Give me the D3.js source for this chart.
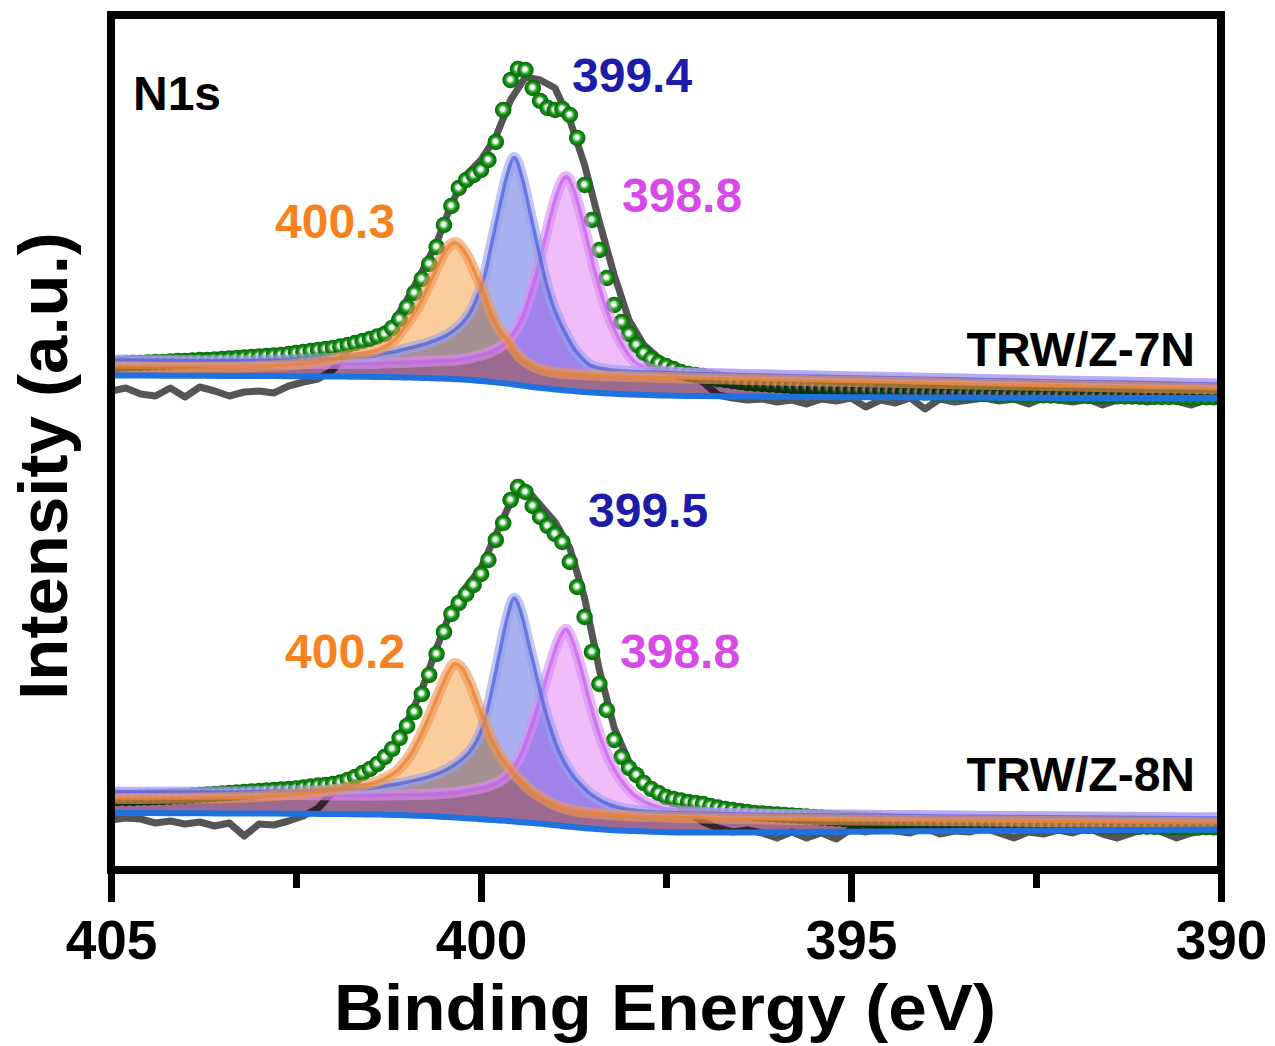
<!DOCTYPE html>
<html><head><meta charset="utf-8">
<script src="https://cdn.jsdelivr.net/npm/d3@7/dist/d3.min.js"></script>
<style>
html,body{margin:0;padding:0;background:#fff;}
svg{display:block;font-family:"Liberation Sans",Arial,Helvetica,sans-serif;font-weight:bold;}
</style>
</head><body>
<svg id="chart" width="1275" height="1046"></svg>
<script>
// ---------------- DATA ----------------
// Binding-energy sampling of the measured spectra (eV)
const rawStart = 405, rawStep = 0.2;   // raw data, 76 samples
const envStart = 405, envStep = 0.1;   // fitted envelope, 151 samples

// energy grid of the fitted components / backgrounds (eV)
const compEnergy = [405,404.5,404,403.5,403,402.6,402.3,402.05,401.85,401.65,
 401.45,401.35,401.25,401.15,401.05,400.95,400.85,400.75,400.65,400.55,
 400.45,400.35,400.25,400.15,400.05,399.95,399.85,399.75,399.65,399.55,
 399.45,399.35,399.25,399.15,399.05,398.95,398.85,398.75,398.65,398.55,
 398.45,398.35,398.25,398.15,398.05,397.95,397.75,397.55,397.35,397.1,
 396.8,396.4,396,395,394,393,392,391,390];

// ---- TRW/Z-7N (upper spectrum), intensity in a.u. ----
const raw7N = [9,12,6,4,12,3,13,9,4,8,9,7,14,18,21,
 30,50,58,66,76,100,128,157,196,225,240,263,300,323,320,312,280,235,178,125,80,55,42,32,24,18,
 5,2,0,1,-2,0,-4,1,-1,2,-7,0,-3,2,-9,1,-2,0,2,-1,1,-4,2,0,-2,1,-5,0,2,-2,1,-1,-5,0,-1];
const env7N = [36,36,36.5,37,37,37.5,38,38,38.5,39,
 39,39.5,40,40,40.5,41,41.5,42,42.5,43,
 43.5,44,44.5,45,46,47,48,49,50,51,
 52,53.5,55,57,59,61,63.5,66,72,81,
 93,107,121,136,153,175,194,212,220,225,
 230,240,258,290,320,331,330,312,299,292,
 290,291,285,262,215,180,150,122,95,78,
 66,55,47,41,37,34,31,28,26,25,
 24,22.5,21,20,19,18,17,16.5,16,15.5,
 15,
 14.5,14,13.5,13,12.5,12,11.5,11,10.7,10.4,
 10.1,9.8,9.5,9.2,8.9,8.6,8.3,8,7.8,7.6,
 7.4,7.2,7,6.8,6.6,6.4,6.2,6,5.8,5.6,
 5.4,5.2,5,4.9,4.8,4.7,4.6,4.5,4.4,4.3,
 4.2,4.1,4,3.9,3.8,3.7,3.6,3.5,3.4,3.3,
 3.2,3.1,3,3,2.9,2.9,2.8,2.8,2.7,2.7];
const bg7N = [24.5,24.4,24.3,24.1,24,23.8,23.7,23.5,23.4,23.2,
 23.1,23,22.9,22.7,22.6,22.4,22.2,22,21.8,21.5,
 21.2,20.8,20.4,19.9,19.3,18.7,18,17.2,16.4,15.5,
 14.5,13.5,12.6,11.8,11,10.2,9.5,8.9,8.3,7.8,
 7.3,6.8,6.4,6,5.7,5.4,5,4.6,4.3,4,
 3.7,3.4,3.2,2.8,2.5,2.3,2.1,2,1.9];
const base7N = [32,31.3,30.6,29.9,29.2,28.6,28.2,27.9,27.6,27.3,
 27,26.9,26.8,26.6,26.5,26.3,26.2,26.1,25.9,25.8,
 25.6,25.5,25.4,25.2,25.1,24.9,24.8,24.7,24.5,24.4,
 24.2,24.1,24,23.8,23.7,23.5,23.4,23.3,23.1,23,
 22.8,22.7,22.6,22.4,22.3,22.1,21.9,21.6,21.3,20.9,
 20.5,20,19.4,18,16.6,15.2,13.8,12.4,11];
const peakA7N = [1,1.5,2.2,3,4.5,6.5,9,12,16,19,
 22,25,29,35,45,55,67,82,98,114,
 127,132,126,114,97,80,60,46,36,25,
 17,12,8,6,4.5,3.5,3,2.6,2.3,2,
 1.8,1.6,1.5,1.4,1.3,1.2,1.1,1,0.9,0.8,
 0.7,0.6,0.5,0.4,0.3,0.2,0.2,0.1,0.1];          // 400.3 eV
const peakB7N = [8,8.5,9,9.5,10.5,11.5,12.5,13.5,14.5,15.5,
 17,19,20.5,22,24,26,28,30,33,36,
 40,45,52,62,78,100,134,168,200,218,
 200,168,135,102,76,57,42,29,20,13,
 10,8.5,7.5,7,6.6,6.3,6,5.8,5.6,5.5,
 5.4,5.3,5.2,5,5,4.9,4.8,4.8,4.7];              // 399.4 eV
const peakC7N = [7,7.2,7.4,7.6,7.8,8,8.3,8.6,8.9,9.2,
 9.6,10,10.4,10.8,11.2,11.6,12,12.5,13,13.5,
 14,14.5,15.5,17,19,21,24,28,34,44,
 57,78,103,133,163,188,200,188,163,133,
 103,78,57,41,28,18,10,7.5,6.5,6,
 5.8,5.6,5.5,5.3,5.2,5.1,5,5,5];                 // 398.8 eV

// ---- TRW/Z-8N (lower spectrum) ----
const raw8N = [10,12,11,7,9,6,8,4,7,-6,6,5,9,14,22,
 38,50,58,67,83,108,140,182,220,243,262,295,328,342,325,308,282,232,160,102,68,50,38,28,18,8,
 2,-2,0,-3,-8,-2,-8,-3,-9,1,-2,3,-1,-3,2,-4,-1,-2,2,-3,-8,-2,-4,0,-3,2,-4,-8,-3,3,-2,-8,-3,-1,-2];
const env8N = [31,32,32,32,32.5,32.5,33,33,33.5,34,
 34,34.5,35,35.5,36,36.5,37,37.5,38,38.5,
 39,39.5,40,40.5,41,41.5,42.5,43.5,44.5,45,
 46,47.5,50,53,57,61,66,73,81,92,
 104,118,136,155,176,198,216,227,236,245,
 256,270,290,307,330,343,338,324,313,304,
 296,288,268,243,213,178,146,120,90,73,
 62,55,47,41,37,33,31,29.5,28,27,
 26,24,22.5,21,20,19,18,17,16.5,16,
 15.5,
 15,14.5,14,13.5,13,12.5,12,11.5,11,10.5,
 10.2,10,9.7,9.4,9.1,8.8,8.5,8.2,8,7.7,
 7.5,7.2,7,6.8,6.6,6.4,6.2,6,5.8,5.6,
 5.4,5.2,5,4.9,4.8,4.7,4.6,4.5,4.4,4.3,
 4.2,4.1,4,3.9,3.8,3.7,3.6,3.5,3.4,3.3,
 3.2,3.1,3,3,2.9,2.9,2.8,2.8,2.7,2.7];
const bg8N = [17,16.9,16.8,16.6,16.5,16.3,16.2,16,15.9,15.7,
 15.5,15.4,15.2,15,14.8,14.6,14.3,14,13.7,13.3,
 12.9,12.5,12,11.6,11.1,10.6,10.1,9.6,9,8.4,
 7.8,7.2,6.6,6,5.2,4.4,3.6,2.9,2.2,1.6,
 1,0.5,0,-0.4,-0.8,-1.1,-1.6,-2,-2.4,-2.6,
 -2.6,-2.4,-2.2,-1.8,-1.3,-0.8,-0.4,0,0.4];
const base8N = [30,29.5,29,28.5,28,27.4,26.9,26.5,26.1,25.7,
 25.2,25,24.7,24.4,24.1,23.8,23.5,23.2,22.8,22.4,
 22,21.6,21.2,20.8,20.3,19.8,19.3,18.8,18.3,17.8,
 17.3,16.8,16.4,16,15.6,15.2,14.8,14.5,14.2,13.9,
 13.6,13.3,13,12.8,12.6,12.4,12,11.7,11.4,11.1,
 10.8,10.4,10,9.5,9,8.5,8,7.5,7];
const peakA8N = [1.5,2,2.8,3.8,5.5,8,10.5,13,16,18.5,
 22,25,29,34,42,52,66,82,100,118,
 135,145,140,126,107,88,70,57,47,38,
 31,24,19,15,11,8.5,6.5,5,4,3.4,
 3,2.6,2.3,2,1.8,1.7,1.5,1.3,1.2,1.1,
 1,0.9,0.8,0.6,0.5,0.4,0.3,0.3,0.2];            // 400.2 eV
const peakB8N = [8,8.5,9,9.5,10.5,11.5,12.5,13.5,14.5,15.5,
 17,18.5,20,21.5,23,25,27,29,32,35,
 39,44,50,58,70,90,122,158,193,214,
 198,168,138,108,84,64,50,39,31,24,
 19,15,12,10,8.5,7.5,6.5,6,5.8,5.6,
 5.5,5.4,5.3,5.2,5.1,5,5,4.9,4.9];              // 399.5 eV
const peakC8N = [7,7.2,7.4,7.6,7.8,8,8.3,8.6,8.9,9.2,
 9.6,10,10.4,10.8,11.2,11.6,12,12.5,13,14,
 15,16,17.5,19,21,23,26,30,36,46,
 60,80,103,128,153,175,186,172,148,120,
 94,72,55,42,32,24,15,10,8,6.8,
 6.2,5.8,5.6,5.4,5.2,5.1,5,5,5];                 // 398.8 eV

const majorTicks = [405, 400, 395, 390];
const minorTicks = [402.5, 397.5, 392.5];
const sampleNames = ["TRW/Z-7N", "TRW/Z-8N"];
const peakLabels7N = ["400.3", "399.4", "398.8"];
const peakLabels8N = ["400.2", "399.5", "398.8"];

// ---------------- CHART ----------------
const svg = d3.select("#chart");
const L = 111, R = 1221, T = 15, B = 870;
const x = d3.scaleLinear().domain([405, 390]).range([L, R]);
const y = d3.scaleLinear().domain([0, 855]).range([B, T]);

const defs = svg.append("defs");
const grad = defs.append("radialGradient").attr("id", "ball")
  .attr("cx", "50%").attr("cy", "50%").attr("r", "50%").attr("fx", "46%").attr("fy", "44%");
grad.append("stop").attr("offset", "0%").attr("stop-color", "#ffffff");
grad.append("stop").attr("offset", "24%").attr("stop-color", "#f2faf2");
grad.append("stop").attr("offset", "44%").attr("stop-color", "#5cb85c");
grad.append("stop").attr("offset", "62%").attr("stop-color", "#178d17");
grad.append("stop").attr("offset", "100%").attr("stop-color", "#066606");
defs.append("clipPath").attr("id", "plotclip").append("rect")
  .attr("x", L).attr("y", T).attr("width", R - L).attr("height", B - T);

const plot = svg.append("g").attr("clip-path", "url(#plotclip)");

const compStyles = [
  {fill: "#fbcd9c", halo: "#ee9652", core: "#e8802f"},
  {fill: "#a9b2f0", halo: "#97a1ee", core: "#4a5cdc"},
  {fill: "#f0bcfa", halo: "#d98ef0", core: "#c85eec"}
];

const spectra = [
  {offset: 470, raw: raw7N, env: env7N, bg: bg7N, base: base7N, peaks: [peakA7N, peakB7N, peakC7N]},
  {offset: 40,  raw: raw8N, env: env8N, bg: bg8N, base: base8N, peaks: [peakA8N, peakB8N, peakC8N]}
];

spectra.forEach(s => {
  const g = plot.append("g");
  const off = s.offset;
  // raw data
  const rawLine = d3.line()
    .x((d, i) => x(rawStart - i * rawStep))
    .y(d => y(off + d));
  g.append("path").datum(s.raw).attr("d", rawLine)
    .attr("fill", "none").attr("stroke", "#555555").attr("stroke-width", 7)
    .attr("stroke-linejoin", "round").attr("stroke-linecap", "round");
  // fitted envelope as balls
  g.append("g").selectAll("circle").data(s.env).join("circle")
    .attr("cx", (d, i) => x(envStart - i * envStep))
    .attr("cy", d => y(off + d))
    .attr("r", 8.3)
    .attr("fill", "url(#ball)");
  // components: fills (multiplied), then outlines (pink, blue, orange on top)
  const cg = g.append("g");
  s.peaks.forEach((p, k) => {
    const area = d3.area().curve(d3.curveMonotoneX)
      .x((d, i) => x(compEnergy[i]))
      .y0((d, i) => y(off + s.bg[i]))
      .y1((d, i) => y(off + s.base[i] + d));
    cg.append("path").datum(p).attr("d", area)
      .attr("fill", compStyles[k].fill).style("mix-blend-mode", "multiply");
  });
  [2, 1, 0].forEach(k => {
    const p = s.peaks[k];
    const line = d3.line().curve(d3.curveMonotoneX)
      .x((d, i) => x(compEnergy[i]))
      .y((d, i) => y(off + s.base[i] + d));
    cg.append("path").datum(p).attr("d", line)
      .attr("fill", "none").attr("stroke", compStyles[k].halo).attr("stroke-width", 11)
      .attr("stroke-opacity", 0.62);
    cg.append("path").datum(p).attr("d", line)
      .attr("fill", "none").attr("stroke", compStyles[k].core).attr("stroke-width", 3.5)
      .attr("stroke-opacity", 0.7);
  });
  // background
  const bgLine = d3.line().curve(d3.curveMonotoneX)
    .x((d, i) => x(compEnergy[i]))
    .y(d => y(off + d));
  g.append("path").datum(s.bg).attr("d", bgLine)
    .attr("fill", "none").attr("stroke", "#1f71de").attr("stroke-width", 6);
});

// frame
svg.append("rect").attr("x", L).attr("y", T).attr("width", R - L).attr("height", B - T)
  .attr("fill", "none").attr("stroke", "#000").attr("stroke-width", 8);

// x axis
const ax = svg.append("g").attr("transform", `translate(0,${B})`)
  .call(d3.axisBottom(x).tickValues(majorTicks).tickSize(32).tickPadding(18).tickFormat(d3.format("d")));
ax.select(".domain").remove();
ax.selectAll(".tick line").attr("stroke", "#000").attr("stroke-width", 7);
ax.selectAll(".tick text").attr("fill", "#000").style("font-size", "55px")
  .style("font-family", '"Liberation Sans",Arial,sans-serif').style("font-weight", "bold");
const axm = svg.append("g").attr("transform", `translate(0,${B})`)
  .call(d3.axisBottom(x).tickValues(minorTicks).tickSize(18).tickFormat(""));
axm.select(".domain").remove();
axm.selectAll(".tick line").attr("stroke", "#000").attr("stroke-width", 7);

// axis titles
svg.append("text").attr("x", 665).attr("y", 1030).attr("text-anchor", "middle")
  .attr("textLength", 662).attr("lengthAdjust", "spacingAndGlyphs")
  .style("font-size", "64px").attr("fill", "#000").text("Binding Energy (eV)");
svg.append("text").attr("transform", "translate(67,466) rotate(-90)").attr("text-anchor", "middle")
  .style("font-size", "69px").attr("fill", "#000").text("Intensity (a.u.)");

// annotations
function label(t, xx, yy, col, size, anchor) {
  svg.append("text").attr("x", xx).attr("y", yy).attr("fill", col)
    .attr("text-anchor", anchor || "start").style("font-size", size + "px").text(t);
}
const cOr = "#f5821f", cBl = "#1c1ca8", cMg = "#d84ae8";
label("N1s", 133, 110, "#000", 48);
label(peakLabels7N[0], 275, 238, cOr, 48);
label(peakLabels7N[1], 572, 92, cBl, 48);
label(peakLabels7N[2], 622, 212, cMg, 48);
label(sampleNames[0], 1195, 366, "#000", 48, "end");
label(peakLabels8N[0], 285, 668, cOr, 48);
label(peakLabels8N[1], 588, 527, cBl, 48);
label(peakLabels8N[2], 620, 668, cMg, 48);
label(sampleNames[1], 1195, 791, "#000", 48, "end");
</script>
</body></html>
